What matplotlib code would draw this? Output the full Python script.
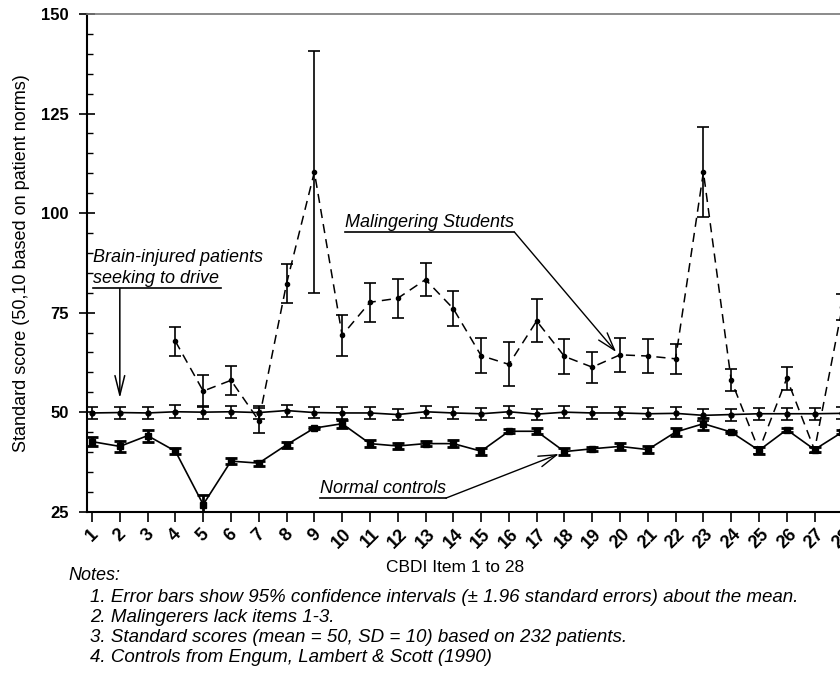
import matplotlib
matplotlib.use("Agg")
import matplotlib.pyplot as plt
import numpy as np

plt.rcParams['font.family'] = ['Liberation Sans', 'DejaVu Sans']

items = list(range(1, 29))
tick_labels = [str(i) for i in items]

patients = [49.8, 49.9, 49.8, 50.1, 50.0, 50.1, 49.9, 50.4, 49.9, 49.8, 49.8, 49.4, 50.1, 49.8,
            49.6, 50.1, 49.5, 50.0, 49.8, 49.8, 49.6, 49.7, 49.2, 49.4, 49.6, 49.6, 49.6, 49.7]
patients_err = [1.6, 1.5, 1.5, 1.6, 1.6, 1.5, 1.6, 1.5, 1.4, 1.5, 1.5, 1.4, 1.5, 1.5,
                1.5, 1.5, 1.4, 1.5, 1.5, 1.5, 1.4, 1.5, 1.5, 1.5, 1.5, 1.5, 1.5, 1.5]

controls = [42.6, 41.4, 44.1, 40.2, 26.8, 37.7, 37.2, 41.8, 46.0, 47.1, 42.1, 41.5, 42.1, 42.1,
            40.2, 45.2, 45.2, 40.1, 40.8, 41.4, 40.6, 45.0, 47.1, 45.0, 40.4, 45.6, 40.6, 45.0]
controls_err = [1.2, 1.3, 1.5, 0.8, 2.3, 0.8, 0.6, 0.8, 0.3, 1.0, 0.8, 0.8, 0.6, 0.8,
                0.9, 0.5, 0.8, 0.8, 0.5, 0.8, 0.8, 0.9, 1.5, 0.3, 0.8, 0.5, 0.6, 0.6]

mal_items = list(range(4, 29))
malingerers = [67.8, 55.3, 58.0, 47.9, 82.3, 110.3, 69.3, 77.6, 78.6, 83.3, 76.0, 64.2, 62.0,
               72.9, 64.0, 61.3, 64.4, 64.1, 63.4, 110.3, 58.0, 40.4, 58.5, 40.5, 76.4]
mal_err = [3.7, 4.1, 3.7, 3.2, 4.8, 30.3, 5.2, 4.9, 4.9, 4.2, 4.4, 4.4, 5.5,
           5.4, 4.4, 3.9, 4.2, 4.3, 3.7, 11.3, 2.8, 0.8, 2.9, 0.8, 3.3]

fig = plt.figure(figsize=(8.4, 6.74), dpi=100)
ax = fig.add_axes([87/840, 1 - 511.7/674, 1 - 87/840 + 0.01, (511.7 - 14)/674])

ekw = dict(capsize=4.5, elinewidth=1.2, capthick=1.2, ecolor='black')
ax.errorbar(items, patients, yerr=patients_err, color='black', lw=1.2, ls='-',
            marker='o', ms=3.5, **ekw, zorder=3)
ax.errorbar(items, controls, yerr=controls_err, color='black', lw=1.2, ls='-',
            marker='s', ms=4, capsize=4.5, elinewidth=2.0, capthick=2.0, ecolor='black', zorder=3)
ax.errorbar(mal_items, malingerers, yerr=mal_err, color='black', lw=1.1, ls=(0, (6, 4)),
            marker='o', ms=3, **ekw, zorder=3)

ax.set_xlim(1 - 5/27.56, 28 + 6/27.56)
ax.set_ylim(25, 150)
ax.set_yticks([25, 50, 75, 100, 125, 150])
ax.set_yticks(np.arange(25, 151, 5), minor=True)
ax.set_xticks(items)
ax.set_xticklabels(tick_labels, rotation=45, ha='center', fontsize=13)
ax.tick_params(axis='y', which='major', direction='inout', length=12, width=1.2, labelsize=12, pad=7)
ax.tick_params(axis='y', which='minor', direction='in', length=4, width=1)
ax.tick_params(axis='x', which='major', direction='out', length=7, width=1.2, pad=3)
for lab in ax.get_yticklabels():
    lab.set_fontweight('bold')
for lab in ax.get_xticklabels():
    lab.set_fontweight('bold')

ax.spines['right'].set_visible(False)
ax.spines['left'].set_linewidth(1.5)
ax.spines['bottom'].set_linewidth(1.5)
ax.spines['top'].set_color('#777777')
ax.spines['top'].set_linewidth(1.2)

ax.set_ylabel('Standard score (50,10 based on patient norms)', fontsize=13, labelpad=8)

tfont = dict(fontsize=13, style='italic')
t1 = ax.text(1.04, 86.2, 'Brain-injured patients\nseeking to drive', ha='left', va='center',
             linespacing=1.35, **tfont)
t2 = ax.text(10.12, 97.6, 'Malingering Students', ha='left', va='center', **tfont)
t3 = ax.text(9.2, 30.8, 'Normal controls', ha='left', va='center', **tfont)

fig.text(455/840, 1 - 567/674, 'CBDI Item 1 to 28', ha='center', va='center', fontsize=12.5)
fig.text(68/840, 1 - 576/674, 'Notes:', ha='left', va='center', fontsize=13, style='italic')
notes = ['1. Error bars show 95% confidence intervals (± 1.96 standard errors) about the mean.',
         '2. Malingerers lack items 1-3.',
         '3. Standard scores (mean = 50, SD = 10) based on 232 patients.',
         '4. Controls from Engum, Lambert & Scott (1990)']
for i, n in enumerate(notes):
    fig.text(90/840, 1 - (597 + 20*i)/674, n, ha='left', va='center', fontsize=13.5, style='italic')

fig.canvas.draw()
inv = ax.transData.inverted()

def underline(t, frac=1.0):
    bb = t.get_window_extent()
    y = bb.y0 - 1
    x0 = bb.x0
    x1 = bb.x0 + (bb.x1 - bb.x0) * frac
    p0 = inv.transform((x0, y))
    p1 = inv.transform((x1, y))
    ax.plot([p0[0], p1[0]], [p0[1], p1[1]], color='black', lw=1.2, clip_on=False)
    return p0, p1

underline(t1, frac=0.75)
_, m1 = underline(t2)
_, n1 = underline(t3)

ax.annotate('', xy=(2, 53.5), xytext=(2, 81.0),
            arrowprops=dict(arrowstyle='->,head_length=1.4,head_width=0.35', lw=1.1, color='black',
                            shrinkA=0, shrinkB=0))
ax.annotate('', xy=(19.86, 65.1), xytext=(m1[0], m1[1]),
            arrowprops=dict(arrowstyle='->,head_length=1.3,head_width=0.4', lw=1.0, color='black',
                            shrinkA=0, shrinkB=0))
ax.annotate('', xy=(17.8, 39.5), xytext=(n1[0], n1[1]),
            arrowprops=dict(arrowstyle='->,head_length=1.3,head_width=0.4', lw=1.0, color='black',
                            shrinkA=0, shrinkB=0))

fig.savefig('out.png', dpi=100)
